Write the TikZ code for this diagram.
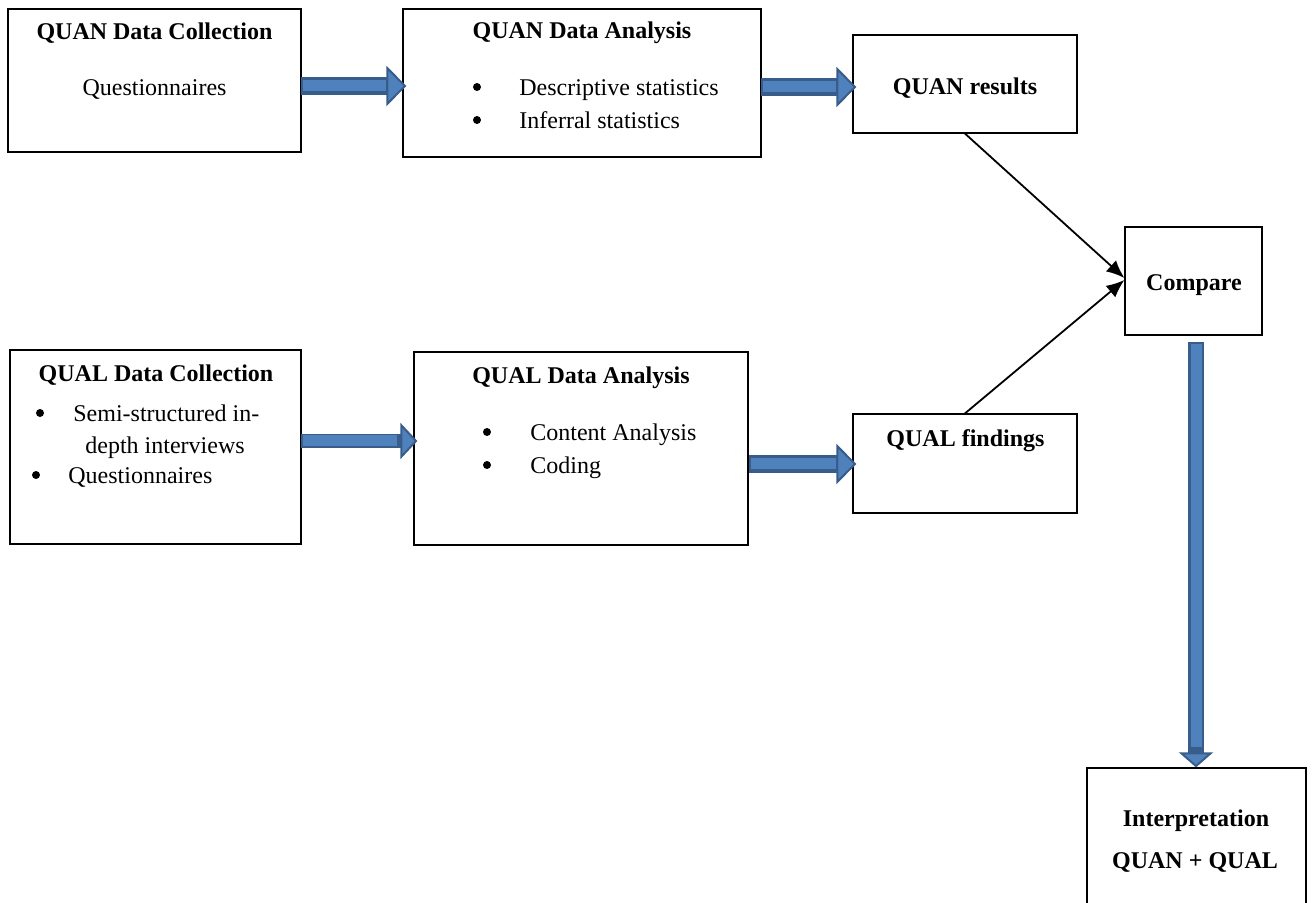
\documentclass[tikz,border=0pt]{standalone}
\usepackage{fontspec}
\setmainfont{Liberation Serif}
\usetikzlibrary{arrows.meta, calc}
\definecolor{arrowfill}{HTML}{4F81BD}
\definecolor{arrowedge}{HTML}{385D8A}
\tikzstyle{block} = [draw, line width=0.6pt, fill=white, rectangle, inner sep=0pt]
\tikzstyle{txt} = [inner sep=0pt, anchor=base, font=\fontsize{12}{14}\selectfont]
\tikzstyle{head} = [txt, font=\fontsize{12}{14}\selectfont\bfseries]
\tikzstyle{item} = [txt, anchor=base west]
\tikzstyle{dot} = [circle, fill, inner sep=0pt, minimum size=4pt]
\tikzstyle{fat} = [draw=arrowedge, line width=9pt, -{Triangle[length=10pt,width=20pt,line width=1pt,fill=arrowfill]},
  postaction={draw=arrowfill, line width=5.5pt, -, shorten <=1pt, shorten >=10pt}]
\tikzstyle{thin} = [line width=0.9pt, -{Latex[length=9pt,width=7.5pt]}]

\begin{document}
\begin{tikzpicture}[x=0.5pt,y=-0.5pt]
  \useasboundingbox (0,0) rectangle (1314,903);
  % boxes
  \node[block, minimum width=146.5pt, minimum height=71.5pt] (qncol) at (154.5,80.5) {};
  \node[block, minimum width=179pt, minimum height=74pt] (qnana) at (582,83) {};
  \node[block, minimum width=112pt, minimum height=49pt] (qnres) at (965,84) {};
  \node[block, minimum width=68.5pt, minimum height=54pt] (cmp) at (1193.5,281) {};
  \node[block, minimum width=145.5pt, minimum height=97pt] (qlcol) at (155.5,447) {};
  \node[block, minimum width=167pt, minimum height=96.5pt] (qlana) at (581,448.5) {};
  \node[block, minimum width=112pt, minimum height=49.5pt] (qlfnd) at (965,463.5) {};
  \node[block, minimum width=109.5pt, minimum height=73.5pt] (interp) at (1196.5,841.5) {};

  % texts
  \node[head] (t1) at (154.5,40) {QUAN Data Collection};
  \node[txt] (t2) at (154.5,96) {Questionnaires};
  \node[head] (t3) at (582,39) {QUAN Data Analysis};
  \node[dot] (b1) at (477,87) {};
  \node[item] (t4) at (519,96) {Descriptive statistics};
  \node[dot] (b2) at (477,120) {};
  \node[item] (t5) at (519,129) {Inferral statistics};
  \node[head] (t6) at (965,95) {QUAN results};
  \node[head] (t7) at (1194,291) {Compare};
  \node[head] (t8) at (156,382) {QUAL Data Collection};
  \node[dot] (b3) at (40,413) {};
  \node[item] (t9) at (73,422) {Semi-structured in-};
  \node[item] (t10) at (85,454) {depth interviews};
  \node[dot] (b4) at (36,475) {};
  \node[item] (t11) at (68,484) {Questionnaires};
  \node[head] (t12) at (581,384) {QUAL Data Analysis};
  \node[dot] (b5) at (487,432) {};
  \node[item] (t13) at (530,441) {Content Analysis};
  \node[dot] (b6) at (487,465) {};
  \node[item] (t14) at (530,474) {Coding};
  \node[head] (t15) at (965.5,447) {QUAL findings};
  \node[head] (t16) at (1196,827) {Interpretation};
  \node[head] (t17) at (1195,869) {QUAN + QUAL};

  % block arrows
  \draw[fat] ($(qncol.east)+(-1,5.5)$) -- ($(qnana.west)+(4,3)$);
  \draw[fat] ($(qnana.east)+(-1,4)$) -- ($(qnres.west)+(4,3)$);
  \draw[fat, line width=7pt, -{Triangle[length=8.5pt,width=18pt,line width=1pt,fill=arrowfill]},
    postaction={line width=4pt, shorten >=8.5pt}] ($(qlcol.east)+(-1,-6)$) -- ($(qlana.west)+(4,-7.5)$);
  \draw[fat] ($(qlana.east)+(0,15.5)$) -- ($(qlfnd.west)+(4,0.5)$);
  \draw[fat, line width=8pt, -{Triangle[length=7.5pt,width=17pt,line width=1pt,fill=arrowfill]},
    postaction={line width=4.5pt, shorten >=7.5pt}] ($(cmp.south)+(2.5,6)$) -- ($(interp.north)+(-0.5,0)$);

  % thin arrows
  \draw[thin] (qnres.south) -- ($(cmp.west)+(0,-3)$);
  \draw[thin] (qlfnd.north) -- ($(cmp.west)+(0,-1)$);
\end{tikzpicture}
\end{document}
